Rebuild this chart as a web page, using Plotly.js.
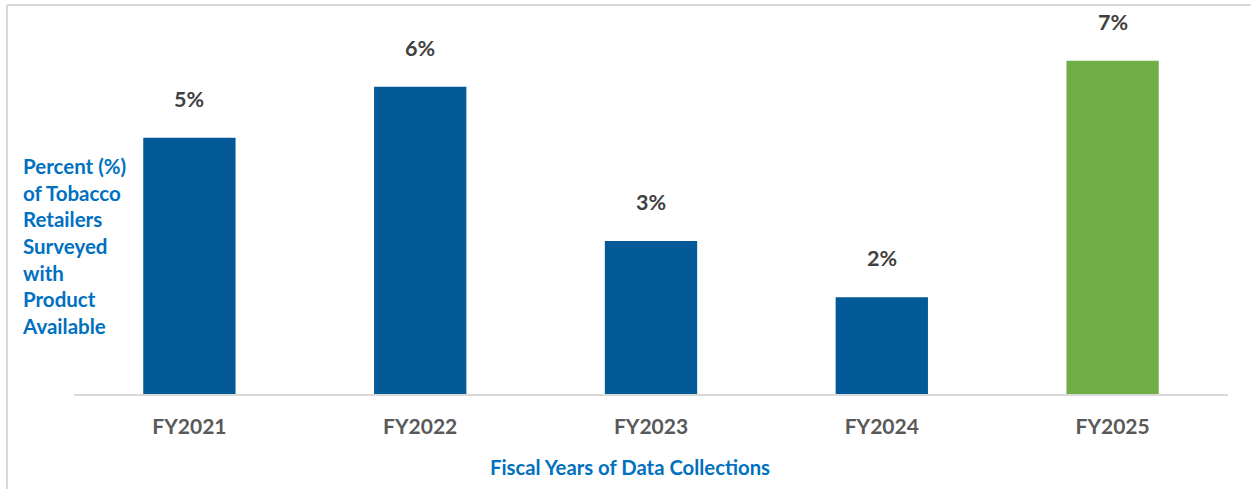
<!DOCTYPE html>
<html>
<head>
<meta charset="utf-8">
<script src="https://cdn.plot.ly/plotly-3.0.1.min.js"></script>
<style>
html,body{margin:0;padding:0;background:#fff;}
#chart{width:1251px;height:489px;}
</style>
</head>
<body>
<div id="chart"></div>
<script>
// Data
const categories = ["FY2021", "FY2022", "FY2023", "FY2024", "FY2025"];
const values = [5.38, 6.45, 3.21, 2.03, 7.0];
const valueLabels = ["5%", "6%", "3%", "2%", "7%"];
const barColors = ["#045A96", "#045A96", "#045A96", "#045A96", "#70AD47"];
const yTitleLines = ["Percent (%)", "of Tobacco", "Retailers", "Surveyed", "with", "Product", "Available"];
const xTitle = "Fiscal Years of Data Collections";

const W = 1251, H = 489;
const M = {l: 74, r: 23, t: 13, b: 95};
const pw = W - M.l - M.r, ph = H - M.t - M.b;
const px2x = p => (p - M.l) / pw;
const py2y = p => (H - M.b - p) / ph;

const trace = {
  type: "bar",
  x: categories,
  y: values,
  marker: {color: barColors},
  hoverinfo: "none"
};

const annotations = categories.map((c, i) => ({
  x: c, y: values[i], xref: "x", yref: "y",
  text: valueLabels[i], showarrow: false,
  yanchor: "middle", yshift: 39,
  font: {family: "Lato, 'Open Sans', sans-serif", size: 21.5, color: "#404040", weight: "bold"}
}));

annotations.push({
  xref: "paper", yref: "paper",
  x: px2x(20), y: py2y(246),
  xanchor: "left", yanchor: "middle", align: "left",
  text: "<b>" + yTitleLines.join("<br>") + "</b>",
  showarrow: false,
  font: {family: "Lato, 'Open Sans', sans-serif", size: 20.5, color: "#0070C0"}
});

annotations.push({
  xref: "paper", yref: "paper",
  x: px2x(629.5), y: py2y(467),
  xanchor: "center", yanchor: "middle",
  text: "<b>" + xTitle + "</b>",
  showarrow: false,
  font: {family: "Lato, 'Open Sans', sans-serif", size: 20.3, color: "#0070C0"}
});

const layout = {
  width: W, height: H,
  margin: M,
  paper_bgcolor: "#fff", plot_bgcolor: "#fff",
  showlegend: false,
  bargap: 0.6,
  xaxis: {
    type: "category",
    showline: true, linecolor: "#D9D9D9", linewidth: 2,
    showgrid: false, zeroline: false, ticks: "",
    ticklabelstandoff: 13,
    tickfont: {family: "Lato, 'Open Sans', sans-serif", size: 21, color: "#595959", weight: "bold"}
  },
  yaxis: {
    range: [0, 8], visible: false, showgrid: false, zeroline: false
  },
  annotations: annotations,
  shapes: [
    {type: "line", xref: "paper", yref: "paper", x0: px2x(7), x1: px2x(7), y0: py2y(5), y1: py2y(495),
     line: {color: "#D9D9D9", width: 2}},
    {type: "line", xref: "paper", yref: "paper", x0: px2x(7), x1: px2x(1260), y0: py2y(5), y1: py2y(5),
     line: {color: "#D9D9D9", width: 2}}
  ]
};

Plotly.newPlot("chart", [trace], layout, {displayModeBar: false, staticPlot: true});
</script>
</body>
</html>
